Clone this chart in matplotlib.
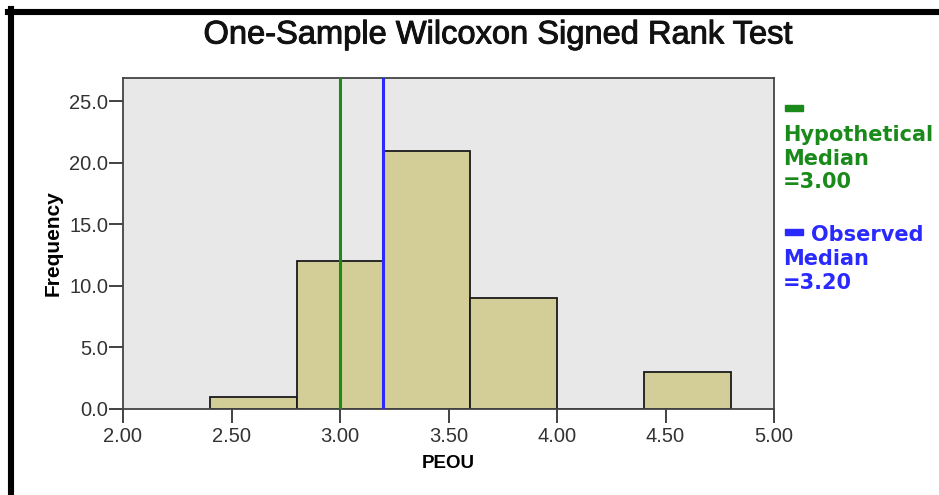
import matplotlib
matplotlib.use("Agg")
import matplotlib.pyplot as plt
import matplotlib.patheffects as pe
from matplotlib.lines import Line2D
from matplotlib.patches import Rectangle

plt.rcParams['font.family'] = ['Liberation Sans', 'DejaVu Sans']

# histogram of PEOU (bin edges and counts)
bin_edges = [2.4, 2.8, 3.2, 3.6, 4.0, 4.4, 4.8]
counts = [1, 12, 21, 9, 0, 3]
hyp_median = 3.00
obs_median = 3.20
x_ticks = [2.0, 2.5, 3.0, 3.5, 4.0, 4.5, 5.0]
y_ticks = [0, 5, 10, 15, 20, 25]

W, H = 939, 495
fig = plt.figure(figsize=(W / 100, H / 100), dpi=100)
ax = fig.add_axes([123 / W, 1 - 409 / H, (774 - 123) / W, (409 - 78) / H])
ax.set_facecolor('#e8e8e8')

widths = [b - a for a, b in zip(bin_edges[:-1], bin_edges[1:])]
ax.bar(bin_edges[:-1], counts, width=widths, align='edge',
       color='#d3ce97', edgecolor='#1a1a1a', linewidth=1.3, zorder=2)
green = '#1a8a1a'
blue = '#2a2aff'
ax.axvline(hyp_median, color=green, linewidth=2.2, zorder=3)
ax.axvline(obs_median, color=blue, linewidth=2.2, zorder=3)

ax.set_xlim(2.0, 5.0)
ax.set_ylim(0, 26.9)
ax.set_xticks(x_ticks)
ax.set_xticklabels(['%.2f' % v for v in x_ticks])
ax.set_yticks(y_ticks)
ax.set_yticklabels(['%.1f' % v for v in y_ticks])
ax.tick_params(direction='out', length=10, width=1.3, color='#333333',
               labelsize=14.5, labelcolor='#333333')
ax.tick_params(axis='y', pad=0.5)
ax.tick_params(axis='x', pad=3)
for s in ax.spines.values():
    s.set_color('#444444')
    s.set_linewidth(1.3)

fig.text(448 / W, 1 - 464 / H, 'PEOU', fontsize=13.5, fontweight='bold',
         ha='center', va='center')
fig.text(53 / W, 1 - 243 / H, 'Frequency', fontsize=15, fontweight='bold',
         ha='center', va='center', rotation=90)
fig.text(498 / W, 1 - 35 / H, 'One-Sample Wilcoxon Signed Rank Test',
         ha='center', va='center', fontsize=23.5, color='#111111',
         path_effects=[pe.withStroke(linewidth=0.7, foreground='#111111')])

# legend at right
lg = dict(fontsize=15, fontweight='bold', ha='left', va='center',
          family='DejaVu Sans')
fig.add_artist(Rectangle((785 / W, 1 - 111 / H), 18 / W, 6 / H,
                         color=green, transform=fig.transFigure))
fig.text(783 / W, 1 - 135 / H, 'Hypothetical', color=green, **lg)
fig.text(783 / W, 1 - 159 / H, 'Median', color=green, **lg)
fig.text(783 / W, 1 - 182 / H, '=3.00', color=green, **lg)
fig.add_artist(Rectangle((785 / W, 1 - 235 / H), 18 / W, 6 / H,
                         color=blue, transform=fig.transFigure))
fig.text(811 / W, 1 - 235 / H, 'Observed', color=blue, **lg)
fig.text(783 / W, 1 - 259 / H, 'Median', color=blue, **lg)
fig.text(783 / W, 1 - 283 / H, '=3.20', color=blue, **lg)

# black frame edges (left and top)
fig.add_artist(Line2D([11 / W, 11 / W], [0, 1 - 9 / H], color='black',
                      linewidth=4.4, transform=fig.transFigure))
fig.add_artist(Line2D([8 / W, 1], [1 - 12 / H, 1 - 12 / H], color='black',
                      linewidth=4.4, transform=fig.transFigure))

fig.savefig('out.png', dpi=100)
